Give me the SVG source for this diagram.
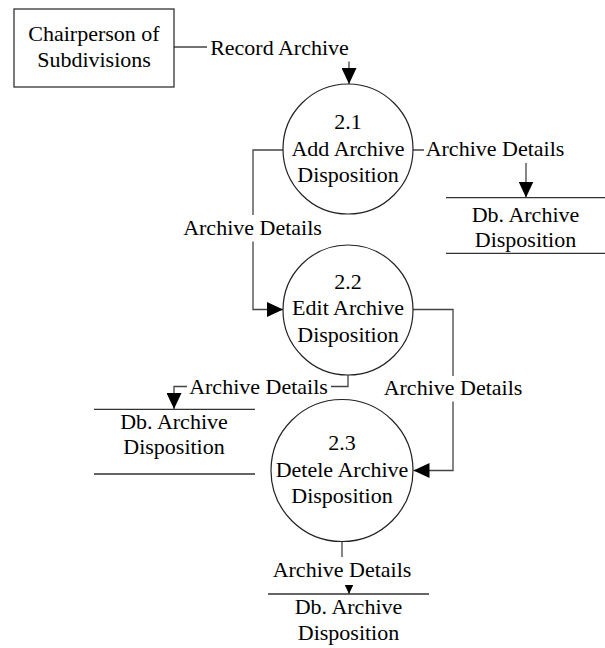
<svg xmlns="http://www.w3.org/2000/svg" width="605" height="648" viewBox="0 0 605 648">
<style>
  text { font-family: 'Liberation Serif', 'Times New Roman', serif; font-size: 22px; fill: #000; text-anchor: middle; }
  .node { fill: #fff; stroke: #222; stroke-width: 1.2; }
  .store { stroke: #333; stroke-width: 1.3; fill: none; }
  .conn { fill: none; stroke: #444; stroke-width: 1.3; }
  .lbg { fill: #fff; stroke: none; }
</style>
<defs>
  <marker id="arrow" markerUnits="userSpaceOnUse" markerWidth="16" markerHeight="15" refX="16" refY="7.5" orient="auto">
    <path d="M0,0 L16,7.5 L0,15 Z" fill="#000"/>
  </marker>
</defs>
<rect width="605" height="648" fill="#fff"/>

<g id="connectors">
  <path class="conn" d="M174,47 H349 V84" marker-end="url(#arrow)"/>
  <path class="conn" d="M413,150 H526 V197.5" marker-end="url(#arrow)"/>
  <path class="conn" d="M283,150 H253 V309.5 H283" marker-end="url(#arrow)"/>
  <path class="conn" d="M348,375 V386.5 H174 V409" marker-end="url(#arrow)"/>
  <path class="conn" d="M413,309.5 H453 V470.5 H413.5" marker-end="url(#arrow)"/>
  <path class="conn" d="M342,541 V567 H349 V594" marker-end="url(#arrow)"/>

  <rect class="lbg" x="207" y="37" width="145" height="24.5"/>
  <text x="279.5" y="54.5">Record Archive</text>
  <rect class="lbg" x="424" y="138" width="143" height="25"/>
  <text x="495" y="155.5">Archive Details</text>
  <rect class="lbg" x="181" y="215" width="143" height="26.5"/>
  <text x="252.5" y="234.5">Archive Details</text>
  <rect class="lbg" x="187" y="376" width="144" height="24"/>
  <text x="258.5" y="394">Archive Details</text>
  <rect class="lbg" x="382" y="376" width="142" height="25.5"/>
  <text x="453" y="395">Archive Details</text>
  <rect class="lbg" x="270" y="557" width="144" height="28"/>
  <text x="342" y="576.5">Archive Details</text>
</g>

<g id="chairperson">
  <rect class="node" x="14" y="9" width="160" height="78" fill="#fff" stroke="#333"/>
  <text x="94" y="41">Chairperson of</text>
  <text x="94" y="67">Subdivisions</text>
</g>

<g id="p2_1">
  <circle class="node" cx="348" cy="149" r="65"/>
  <text x="348" y="128.5">2.1</text>
  <text x="348" y="155.5">Add Archive</text>
  <text x="348" y="181.5">Disposition</text>
</g>

<g id="p2_2">
  <circle class="node" cx="348" cy="310" r="65"/>
  <text x="348" y="288.5">2.2</text>
  <text x="348" y="315">Edit Archive</text>
  <text x="348" y="341.5">Disposition</text>
</g>

<g id="p2_3">
  <circle class="node" cx="342" cy="470.5" r="71"/>
  <text x="342" y="450">2.3</text>
  <text x="342" y="476.5">Detele Archive</text>
  <text x="342" y="503">Disposition</text>
</g>

<g id="store_1">
  <path class="store" d="M446,197.7 H605 M446,253.3 H605"/>
  <text x="525.5" y="222">Db. Archive</text>
  <text x="525.5" y="246.5">Disposition</text>
</g>

<g id="store_2">
  <path class="store" d="M94,409.3 H255 M94,474 H255"/>
  <text x="174" y="429">Db. Archive</text>
  <text x="174" y="454">Disposition</text>
</g>

<g id="store_3">
  <path class="store" d="M268,594 H429"/>
  <text x="348.5" y="613.5">Db. Archive</text>
  <text x="348.5" y="640">Disposition</text>
</g>
</svg>
